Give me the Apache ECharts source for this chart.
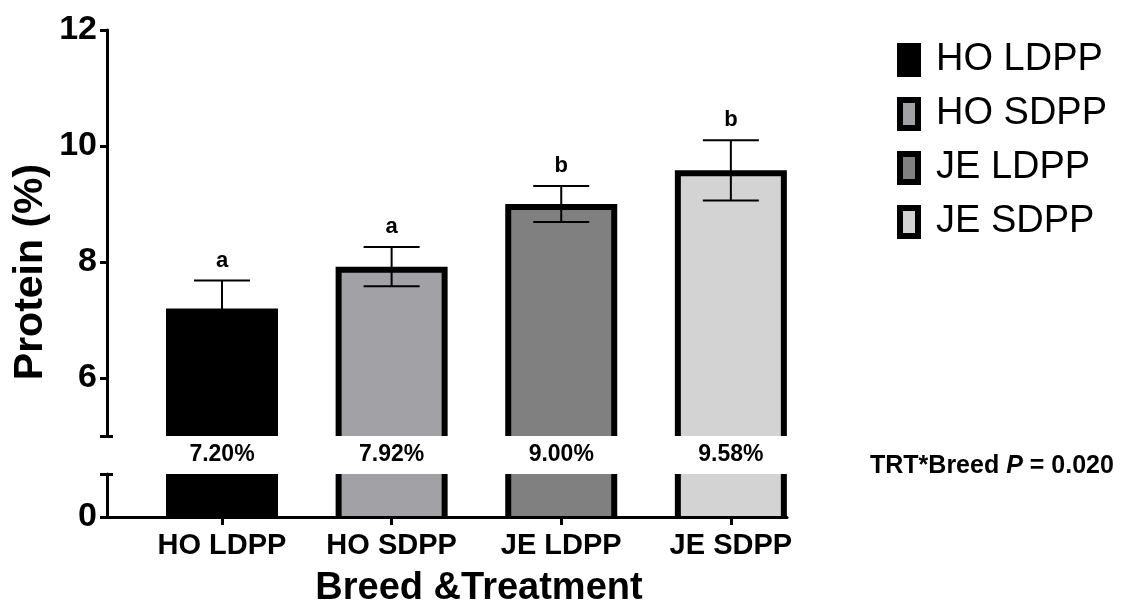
<!DOCTYPE html>
<html>
<head>
<meta charset="utf-8">
<script src="https://cdn.jsdelivr.net/npm/echarts@6/dist/echarts.min.js"></script>
<style>
html, body { margin: 0; padding: 0; background: #fff; }
#main { width: 1126px; height: 609px; }
</style>
</head>
<body>
<div id="main"></div>
<script>
// data
const categories = ['HO LDPP', 'HO SDPP', 'JE LDPP', 'JE SDPP'];
const protein = [7.20, 7.92, 9.00, 9.58];
const sem = [0.48, 0.34, 0.31, 0.52];
const letters = ['a', 'a', 'b', 'b'];
const upperTicks = [6, 8, 10, 12];
const lowerTicks = [0];

const fills = ['#000000', '#a2a2a6', '#808080', '#d3d3d3'];
const FONT = '"Liberation Sans", Arial, sans-serif';
const BAR_W = 112;
const BORDER = 6;
const X_MIN = -0.678, X_MAX = 3.331;   // axis runs a bit past the bars, GraphPad style
const UP_MIN = 5, UP_MAX = 12, LOW_MAX = 0.78;

const chart = echarts.init(document.getElementById('main'));

function barRender(fill) {
  return function (params, api) {
    const x = api.value(0), y = api.value(1);
    const top = api.coord([x, y]);
    const base = api.coord([x, 0]);
    const half = BAR_W / 2 - BORDER / 2;
    // bottom edge pushed below the axis so the clip hides it
    return {
      type: 'rect',
      shape: { x: top[0] - half, y: top[1] + BORDER / 2, width: half * 2, height: base[1] - top[1] + BORDER },
      style: { fill: fill, stroke: '#000', lineWidth: BORDER }
    };
  };
}

function errRender(params, api) {
  const x = api.value(0), m = api.value(1), s = api.value(2);
  const hi = api.coord([x, m + s]);
  const lo = api.coord([x, m - s]);
  const bottom = api.coord([x, UP_MIN]);
  const ln = { stroke: '#000', lineWidth: 2 };
  return {
    type: 'group',
    children: [
      { type: 'line', shape: { x1: hi[0], y1: hi[1], x2: lo[0], y2: lo[1] }, style: ln },
      { type: 'line', shape: { x1: hi[0] - 28, y1: hi[1], x2: hi[0] + 28, y2: hi[1] }, style: ln },
      { type: 'line', shape: { x1: lo[0] - 28, y1: lo[1], x2: lo[0] + 28, y2: lo[1] }, style: ln },
      { type: 'text', x: hi[0], y: hi[1] - 9,
        style: { text: letters[params.dataIndex], fill: '#000', font: 'bold 22px ' + FONT, align: 'center', verticalAlign: 'bottom' } },
      { type: 'text', x: bottom[0], y: bottom[1] + 19,
        style: { text: m.toFixed(2) + '%', fill: '#000', font: 'bold 23px ' + FONT, align: 'center', verticalAlign: 'middle' } }
    ]
  };
}

const axisLineStyle = { color: '#000', width: 3 };
const tickLabel = { color: '#000', fontSize: 34, fontWeight: 'bold', fontFamily: FONT, margin: 10 };

const series = [];
categories.forEach(function (c, i) {
  series.push({ type: 'custom', name: c, xAxisIndex: 0, yAxisIndex: 0, clip: true,
    itemStyle: { color: fills[i] }, data: [[i, protein[i]]], renderItem: barRender(fills[i]) });
  series.push({ type: 'custom', name: c, xAxisIndex: 1, yAxisIndex: 1, clip: true,
    itemStyle: { color: fills[i] }, data: [[i, protein[i]]], renderItem: barRender(fills[i]) });
});
series.push({ type: 'custom', name: 'sem', xAxisIndex: 0, yAxisIndex: 0, z: 5, silent: true,
  data: protein.map(function (v, i) { return [i, v, sem[i]]; }), renderItem: errRender });

const option = {
  animation: false,
  backgroundColor: '#fff',
  grid: [
    { left: 107, width: 680, top: 30, height: 406 },
    { left: 107, width: 680, top: 474, height: 45 }
  ],
  xAxis: [
    { gridIndex: 0, type: 'value', min: X_MIN, max: X_MAX, show: false },
    { gridIndex: 1, type: 'value', min: X_MIN, max: X_MAX, z: 10,
      axisLine: { show: true, onZero: false, lineStyle: axisLineStyle },
      axisTick: { show: true, customValues: [0, 1, 2, 3], length: 8, lineStyle: axisLineStyle },
      axisLabel: { customValues: [0, 1, 2, 3], formatter: function (v) { return categories[Math.round(v)]; },
        color: '#000', fontSize: 29, fontWeight: 'bold', fontFamily: FONT, margin: 14 },
      splitLine: { show: false },
      name: 'Breed &Treatment', nameLocation: 'middle', nameGap: 53,
      nameTextStyle: { color: '#000', fontSize: 38, fontWeight: 'bold', fontFamily: FONT, padding: [0, 0, 0, 64] } }
  ],
  yAxis: [
    { gridIndex: 0, type: 'value', min: UP_MIN, max: UP_MAX, interval: 1,
      axisLine: { show: true, onZero: false, lineStyle: axisLineStyle },
      axisTick: { show: true, customValues: [UP_MIN].concat(upperTicks), length: 7, lineStyle: axisLineStyle },
      axisLabel: Object.assign({ customValues: upperTicks }, tickLabel),
      splitLine: { show: false } },
    { gridIndex: 1, type: 'value', min: 0, max: LOW_MAX,
      axisLine: { show: true, onZero: false, lineStyle: axisLineStyle },
      axisTick: { show: true, customValues: lowerTicks.concat([LOW_MAX]), length: 7, lineStyle: axisLineStyle },
      axisLabel: Object.assign({ customValues: lowerTicks }, tickLabel),
      splitLine: { show: false } },
    // right half of the break caps
    { gridIndex: 0, type: 'value', min: UP_MIN, max: UP_MAX, position: 'left',
      axisLine: { show: false, onZero: false },
      axisTick: { show: true, inside: true, customValues: [UP_MIN], length: 6, lineStyle: axisLineStyle },
      axisLabel: { show: false }, splitLine: { show: false } },
    { gridIndex: 1, type: 'value', min: 0, max: LOW_MAX, position: 'left',
      axisLine: { show: false, onZero: false },
      axisTick: { show: true, inside: true, customValues: [LOW_MAX], length: 6, lineStyle: axisLineStyle },
      axisLabel: { show: false }, splitLine: { show: false } }
  ],
  legend: {
    orient: 'vertical', left: 892, top: 36,
    icon: 'rect', itemWidth: 18, itemHeight: 28, itemGap: 16,
    selectedMode: false,
    textStyle: { color: '#000', fontSize: 38, fontFamily: FONT, padding: [0, 0, 0, 13] },
    data: categories.map(function (c, i) {
      return { name: c, itemStyle: { color: fills[i], borderColor: '#000', borderWidth: 6 } };
    })
  },
  graphic: [
    { type: 'text', x: 31, y: 272, rotation: Math.PI / 2,
      style: { text: 'Protein (%)', fill: '#000', font: 'bold 41px ' + FONT, align: 'center', verticalAlign: 'middle' } },
    { type: 'text', x: 870, y: 466,
      style: { text: '{b|TRT*Breed }{i|P}{b| = 0.020}', verticalAlign: 'middle',
        rich: {
          b: { fill: '#000', fontSize: 25, fontWeight: 'bold', fontFamily: FONT },
          i: { fill: '#000', fontSize: 25, fontWeight: 'bold', fontStyle: 'italic', fontFamily: FONT }
        } } }
  ],
  series: series
};

chart.setOption(option);
</script>
</body>
</html>
